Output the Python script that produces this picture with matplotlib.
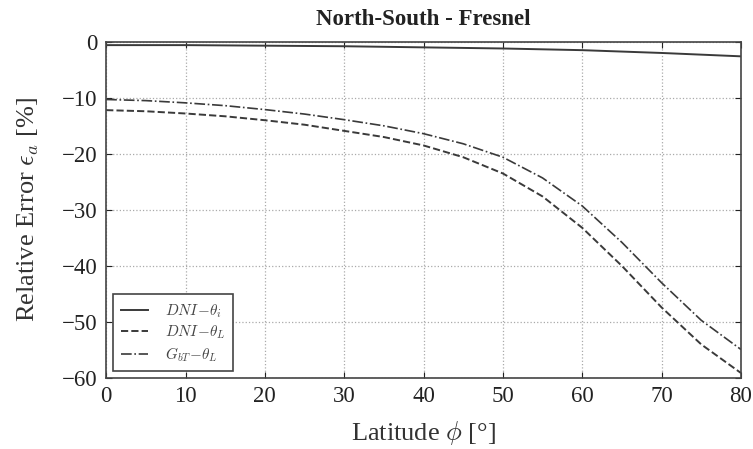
import matplotlib
matplotlib.use('Agg')
import matplotlib.pyplot as plt

plt.rcParams['font.family'] = ['Liberation Serif', 'DejaVu Serif']
plt.rcParams['mathtext.fontset'] = 'cm'

# latitude [deg]
lat = [0, 5, 10, 15, 20, 25, 30, 35, 40, 45, 50, 55, 60, 65, 70, 75, 80]

# relative error [%]
dni_theta_i = [-0.6, -0.6, -0.6, -0.65, -0.7, -0.75, -0.8, -0.9, -1.0, -1.1, -1.2, -1.35, -1.5, -1.75, -2.0, -2.3, -2.6]
dni_theta_L = [-12.2, -12.4, -12.8, -13.3, -14.0, -14.8, -15.9, -17.0, -18.5, -20.6, -23.5, -27.6, -33.2, -40.0, -47.4, -54.0, -59.1]
gbt_theta_L = [-10.3, -10.5, -10.9, -11.4, -12.1, -12.9, -13.9, -15.0, -16.4, -18.2, -20.6, -24.3, -29.3, -35.8, -43.0, -49.7, -54.9]

col = '#3a3a3a'

fig = plt.figure(figsize=(7.53, 4.49), dpi=100)
ax = fig.add_axes([0.141, 0.158, 0.843, 0.749])

ax.plot(lat, dni_theta_i, '-', color=col, lw=1.4, label=r'$DNI\!-\!\theta_i$')
ax.plot(lat, dni_theta_L, '--', color=col, lw=1.4, label=r'$DNI\!-\!\theta_L$')
ax.plot(lat, gbt_theta_L, '-.', color=col, lw=1.2, label=r'$G_{bT}\!-\!\theta_L$')

ax.set_xlim(0, 80)
ax.set_ylim(-60, 0)
ax.set_xticks(range(0, 81, 10))
ax.set_yticks(range(-60, 1, 10))
ax.tick_params(direction='in', top=True, right=True, labelsize=16.5, length=4,
               pad=6, colors='#222222')
ax.grid(True, linestyle=':', color='#aaaaaa', lw=0.9)
for s in ax.spines.values():
    s.set_color('#444444')
    s.set_linewidth(1.2)

ax.set_xlabel(r'Latitude $\phi$ [°]', fontsize=19, color='#333333', labelpad=8)
ax.set_ylabel(r'Relative Error $\epsilon_a$ [%]', fontsize=19, color='#333333', labelpad=15)
ax.set_title('North-South - Fresnel', fontsize=16.5, fontweight='bold', color='#222222', pad=12)

leg = ax.legend(loc='lower left', fontsize=11, fancybox=False, framealpha=1,
                edgecolor='#444444', handlelength=1.8, handletextpad=1.1,
                borderpad=0.5, labelspacing=0.25, borderaxespad=0.45)
leg.get_frame().set_linewidth(1.2)
for t in leg.get_texts():
    t.set_color('#444444')

fig.savefig('out.png', dpi=100)
